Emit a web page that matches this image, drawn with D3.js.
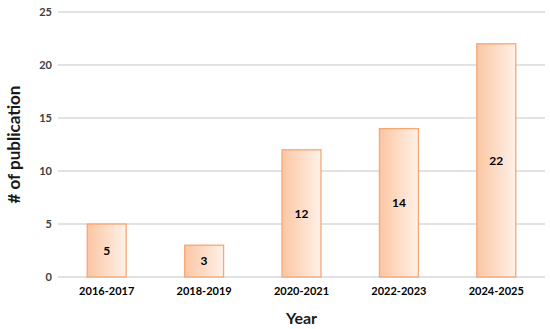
<html>
<head>
<title>d3</title>
</head>
<script src="https://d3js.org/d3.v7.min.js"></script>
<body style="margin:0;background:#fff">
<svg class="bar-chart"></svg>
<script>

    var years = ['2016-2017', '2018-2019', '2020-2021', '2022-2023', '2024-2025'];
    var counts = [5, 3, 12, 14, 22];
    var yTicks = [0, 5, 10, 15, 20, 25];

    var svgWidth = 550, svgHeight = 329;
    var plotLeft = 58, plotRight = 545, plotTop = 12, plotBottom = 277;
    var font = 'Lato, "Open Sans", sans-serif';

    var svg = d3.select('svg')
        .attr('width', svgWidth)
        .attr('height', svgHeight)
        .style('font-family', font);

    var grad = svg.append('defs').append('linearGradient')
        .attr('id', 'barFill')
        .attr('x1', '0%').attr('x2', '100%')
        .attr('y1', '0%').attr('y2', '0%');
    grad.append('stop').attr('offset', '0%').attr('stop-color', '#fbc6a3');
    grad.append('stop').attr('offset', '100%').attr('stop-color', '#fff1e8');

    var xScale = d3.scaleBand()
        .domain(years)
        .range([plotLeft, plotRight])
        .paddingInner(0.6)
        .paddingOuter(0.3);

    var yScale = d3.scaleLinear()
        .domain([0, 25])
        .range([plotBottom, plotTop]);

    // grid lines
    svg.append('g')
        .selectAll('line')
        .data(yTicks)
        .enter()
        .append('line')
        .attr('x1', plotLeft)
        .attr('x2', plotRight)
        .attr('y1', function (d) { return yScale(d); })
        .attr('y2', function (d) { return yScale(d); })
        .attr('stroke', '#d9d9d9')
        .attr('stroke-width', 1.5);

    // y tick labels
    var yAxis = svg.append('g')
        .attr('transform', 'translate(' + (plotLeft - 6) + ',0)')
        .call(d3.axisLeft(yScale).tickValues(yTicks).tickSize(0).tickPadding(0));
    yAxis.select('.domain').remove();
    yAxis.selectAll('text')
        .attr('font-family', font)
        .attr('font-size', 11)
        .attr('font-weight', 'bold')
        .attr('fill', '#404040');

    // bars
    svg.selectAll('rect.bar')
        .data(counts)
        .enter()
        .append('rect')
        .attr('class', 'bar')
        .attr('x', function (d, i) { return xScale(years[i]); })
        .attr('y', function (d) { return yScale(d); })
        .attr('width', xScale.bandwidth())
        .attr('height', function (d) { return plotBottom - yScale(d); })
        .attr('fill', 'url(#barFill)')
        .attr('stroke', '#f5a777')
        .attr('stroke-width', 1.3);

    // value labels
    svg.selectAll('text.val')
        .data(counts)
        .enter()
        .append('text')
        .attr('class', 'val')
        .text(function (d) { return d; })
        .attr('x', function (d, i) { return xScale(years[i]) + xScale.bandwidth() / 2; })
        .attr('y', function (d) { return (yScale(d) + plotBottom) / 2; })
        .attr('dy', '0.35em')
        .attr('text-anchor', 'middle')
        .attr('font-size', 12)
        .attr('font-weight', 'bold')
        .attr('fill', '#000');

    // x tick labels
    var xAxis = svg.append('g')
        .attr('transform', 'translate(0,' + (plotBottom + 10) + ')')
        .call(d3.axisBottom(xScale).tickSize(0).tickPadding(0));
    xAxis.select('.domain').remove();
    xAxis.selectAll('text')
        .attr('font-family', font)
        .attr('font-size', 11)
        .attr('font-weight', 'bold')
        .attr('fill', '#000');

    // axis titles
    svg.append('text')
        .text('Year')
        .attr('x', (plotLeft + plotRight) / 2)
        .attr('y', 324)
        .attr('text-anchor', 'middle')
        .attr('font-size', 16)
        .attr('font-weight', 'bold')
        .attr('fill', '#1a1a1a');

    svg.append('text')
        .text('# of publication')
        .attr('transform', 'translate(20,' + ((plotTop + plotBottom) / 2) + ') rotate(-90)')
        .attr('text-anchor', 'middle')
        .attr('font-size', 17)
        .attr('font-weight', 'bold')
        .attr('fill', '#1a1a1a');

</script>
</body>
</html>
